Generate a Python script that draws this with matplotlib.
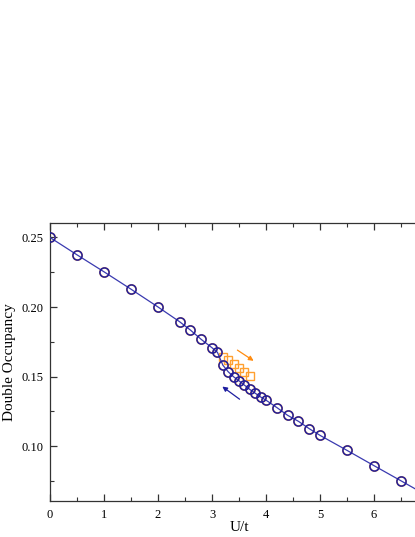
import matplotlib
matplotlib.use("Agg")
import matplotlib.pyplot as plt
from matplotlib.ticker import MultipleLocator, FormatStrFormatter

# Double occupancy vs U/t (sweep down = circles, sweep up branch = squares)
u_circ = [0.0, 0.5, 1.0, 1.5, 2.0, 2.4, 2.6, 2.8, 3.0, 3.1, 3.2, 3.3, 3.4,
          3.5, 3.6, 3.7, 3.8, 3.9, 4.0, 4.2, 4.4, 4.6, 4.8, 5.0, 5.5, 6.0, 6.5]
d_circ = [0.250, 0.2375, 0.2253, 0.2128, 0.2000, 0.1894, 0.1834, 0.1767,
          0.1707, 0.1674, 0.1582, 0.1534, 0.1498, 0.1469, 0.1438, 0.1407,
          0.1380, 0.1353, 0.1330, 0.1277, 0.1221, 0.1178, 0.1125, 0.1077,
          0.0969, 0.0859, 0.0750]
u_sq = [3.2, 3.3, 3.4, 3.5, 3.6, 3.7]
d_sq = [0.1640, 0.1618, 0.1593, 0.1564, 0.1535, 0.1503]

# line through the data, running off the right edge
u_line = u_circ + [7.0]
d_line = d_circ + [0.0640]

# hysteresis arrows (start, end)
arrow_up = ((3.47, 0.1690), (3.77, 0.1613))
arrow_down = ((3.51, 0.1337), (3.19, 0.1428))

BLUE = "#1e1ea0"
ORANGE = "#ffa030"

plt.rcParams["font.family"] = ["Liberation Serif", "DejaVu Serif"]

fig = plt.figure(figsize=(4.15, 5.37), dpi=100)
ax = fig.add_axes([0.1205, 0.067, 0.911, 0.518])

ax.plot(u_circ, d_circ, "o", ms=6.6, mfc="none", mec=ORANGE, mew=1.2, zorder=2)
ax.plot(u_sq, d_sq, "s", ms=6.2, mfc="none", mec=ORANGE, mew=1.0, zorder=2)
ax.plot(u_line, d_line, "-", color="#3a3ab0", lw=0.9, zorder=3)
ax.plot(u_circ, d_circ, "o", ms=6.6, mfc="none", mec=BLUE, mew=1.1, zorder=4)

ax.annotate("", xy=arrow_up[1], xytext=arrow_up[0],
            arrowprops=dict(arrowstyle="-|>", color="#ff8c10", lw=0.9,
                            mutation_scale=7, shrinkA=0, shrinkB=0))
ax.annotate("", xy=arrow_down[1], xytext=arrow_down[0],
            arrowprops=dict(arrowstyle="-|>", color=BLUE, lw=0.9,
                            mutation_scale=7, shrinkA=0, shrinkB=0))

ax.set_xlim(0, 7)
ax.set_ylim(0.0605, 0.2605)
ax.xaxis.set_minor_locator(MultipleLocator(0.5))
ax.yaxis.set_major_locator(MultipleLocator(0.05))
ax.yaxis.set_minor_locator(MultipleLocator(0.025))
ax.set_xticks([0, 1, 2, 3, 4, 5, 6])
ax.yaxis.set_major_formatter(FormatStrFormatter("%.2f"))

ax.tick_params(which="both", direction="in", top=True, right=True,
               labelsize=9, color="#333333")
ax.tick_params(axis="x", pad=6)
ax.tick_params(axis="y", pad=5)
ax.tick_params(which="major", length=5, width=0.9)
ax.tick_params(which="minor", length=3, width=0.8)
for sp in ax.spines.values():
    sp.set_color("#333333")
    sp.set_linewidth(0.9)

ax.set_xlabel("U/t", fontsize=11, labelpad=0)
ax.set_ylabel("Double Occupancy", fontsize=11, labelpad=4)

fig.savefig("out.png", dpi=100)
